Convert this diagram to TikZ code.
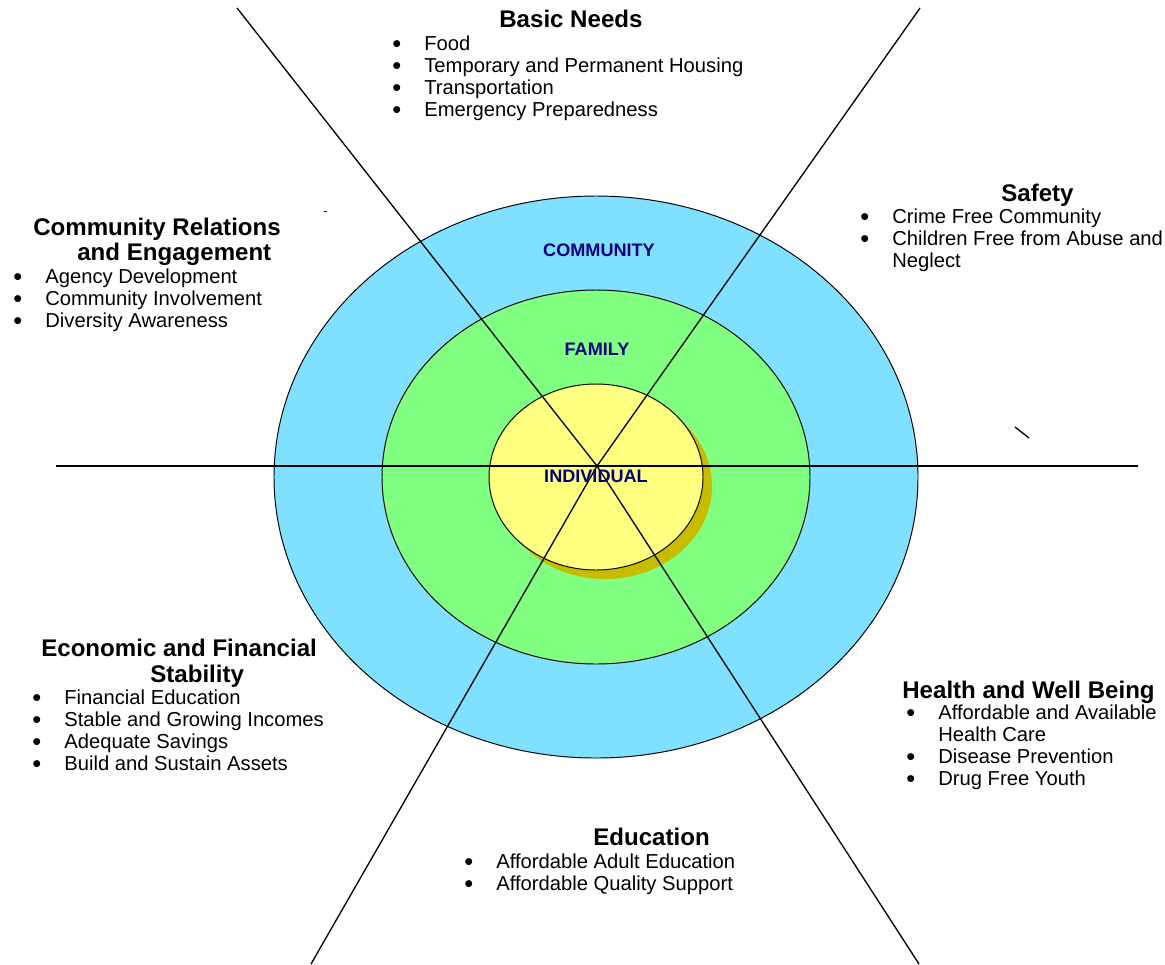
\documentclass[tikz,border=0pt]{standalone}
\usepackage{fontspec}
\setmainfont{Liberation Sans}
\usepackage{array}
\usepackage{tikz}
\usetikzlibrary{backgrounds}

\definecolor{ringblue}{RGB}{128,224,255}
\definecolor{ringgreen}{RGB}{128,255,128}
\definecolor{ringyellow}{RGB}{255,255,128}
\definecolor{shadowyellow}{RGB}{200,188,0}
\definecolor{labelnavy}{RGB}{0,0,128}

\newcommand{\goallist}[1]{\begin{tabular}[t]{@{}p{0.64cm}@{}l@{}}#1\end{tabular}}
\newcommand{\bul}{\smash{\raisebox{-1.2pt}{\fontsize{14.5}{12}\selectfont\textbullet}}}

\begin{document}
\begin{tikzpicture}[x=0.02cm,y=-0.02cm,
  ring/.style={draw=black,line width=0.55pt},
  spoke/.style={draw=black,line width=0.75pt},
  level/.style={text=labelnavy,inner sep=0pt,font=\fontsize{10.3}{12}\selectfont\bfseries},
  head/.style={anchor=base west,inner sep=0pt,font=\fontsize{13.7}{14.2}\selectfont\bfseries},
  goals/.style={anchor=base west,inner sep=0pt,font=\fontsize{11.5}{12.6}\selectfont}]
\useasboundingbox (0,0) rectangle (1165,964);

% rings
\draw[ring,fill=ringblue] (596,477) ellipse [x radius=322, y radius=281];
\draw[ring,fill=ringgreen] (596,477) ellipse [x radius=214, y radius=187];
\fill[shadowyellow] (605,486) ellipse [x radius=107, y radius=93];
\draw[ring,fill=ringyellow] (596,477) ellipse [x radius=107, y radius=93];

% spokes
\coordinate (hub) at (597,466);
\coordinate (west) at (56,466);
\coordinate (east) at (1138,466);
\coordinate (nw) at (237,8);
\coordinate (ne) at (920,8);
\coordinate (sw) at (311,964);
\coordinate (se) at (919,964);
\foreach \tip in {west,east,nw,ne,sw,se}
  \draw[spoke] (hub) -- (\tip);
\draw[spoke] (1015,427) -- (1029,438);
\draw[line width=0.4pt] (324,211) -- (327,211);

% levels
\node[level] (community) at (599,250) {COMMUNITY};
\node[level] (family) at (597,349) {FAMILY};
\node[level] (individual) at (596,476) {INDIVIDUAL};

% basic needs
\node[head] (basicHead) at (499,27) {Basic Needs};
\node[goals] (basicList) at (392,50) {\goallist{
\bul & Food\\
\bul & Temporary and Permanent Housing\\
\bul & Transportation\\
\bul & Emergency Preparedness}};

% safety
\node[head] (safetyHead) at (1001,201) {Safety};
\node[goals] (safetyList) at (860,223) {\goallist{
\bul & Crime Free Community\\
\bul & Children Free from Abuse and\\
 & Neglect}};

% community relations
\node[head] (relHeadA) at (33,235) {Community Relations};
\node[head] (relHeadB) at (77,260) {and Engagement};
\node[goals] (relList) at (13,283) {\goallist{
\bul & Agency Development\\
\bul & Community Involvement\\
\bul & Diversity Awareness}};

% economic stability
\node[head] (econHeadA) at (41,656) {Economic and Financial};
\node[head] (econHeadB) at (150,682) {Stability};
\node[goals] (econList) at (32,704) {\goallist{
\bul & Financial Education\\
\bul & Stable and Growing Incomes\\
\bul & Adequate Savings\\
\bul & Build and Sustain Assets}};

% health
\node[head] (healthHead) at (902,698) {Health and Well Being};
\node[goals] (healthList) at (906,719) {\goallist{
\bul & Affordable and Available\\
 & Health Care\\
\bul & Disease Prevention\\
\bul & Drug Free Youth}};

% education
\node[head] (eduHead) at (593,845) {Education};
\node[goals] (eduList) at (464,868) {\goallist{
\bul & Affordable Adult Education\\
\bul & Affordable Quality Support}};
\end{tikzpicture}
\end{document}
